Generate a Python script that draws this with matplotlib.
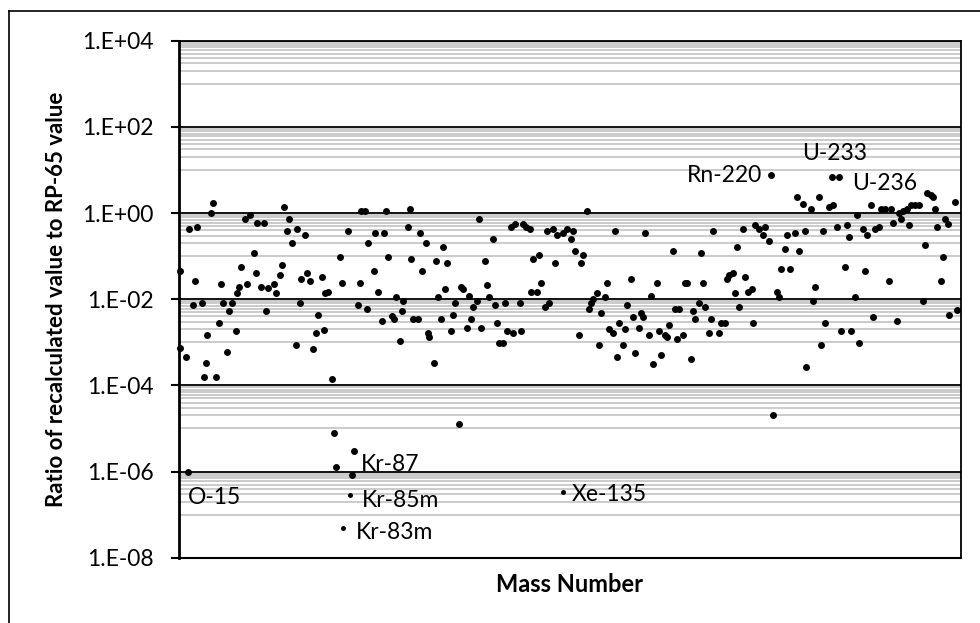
import math
import matplotlib
matplotlib.use("Agg")
import matplotlib.pyplot as plt
from matplotlib.ticker import FixedLocator, FuncFormatter, NullFormatter
from matplotlib.lines import Line2D

plt.rcParams['font.family'] = ['Lato', 'DejaVu Sans']

# Position of each nuclide along the (unlabelled) mass-number axis
nuclide_pos = [
    0.4, 0.4, 3.2, 4.2, 5.0, 7.0, 7.9, 9.0, 11.2, 12.2, 13.2, 14.0, 16.0, 17.0, 18.2,
    20.0, 21.0, 22.0, 24.1, 25.0, 26.2, 28.2, 29.0, 30.0, 30.9, 33.0, 34.0, 35.2, 37.2,
    38.2, 39.0, 41.0, 42.4, 43.2, 44.2, 47.2, 48.2, 50.2, 51.2, 52.2, 54.0, 55.0, 56.2,
    58.2, 59.0, 60.2, 61.0, 63.0, 64.0, 65.2, 67.1, 68.2, 69.2, 71.2, 72.2, 73.0, 74.2,
    76.2, 77.2, 78.2, 80.2, 81.2, 84.2, 86.2, 87.2, 89.2, 90.2, 90.9, 93.0, 93.7,
    94.5, 97.2, 98.0, 99.2, 101.2, 102.2, 103.2, 104.2, 106.2, 107.2, 108.2, 110.2, 111.2,
    112.0, 114.2, 115.2, 116.0, 117.0, 119.2, 120.2, 121.2, 123.2, 124.2, 124.9, 127.2,
    128.2, 129.2, 131.2, 132.2, 133.2, 134.2, 136.2, 137.2, 138.2, 140.2, 141.2, 142.2,
    144.2, 145.2, 146.2, 147.2, 149.2, 150.2, 151.2, 153.2, 154.2, 155.2, 157.2, 158.2,
    159.2, 160.0, 162.0, 163.2, 164.2, 166.2, 167.2, 168.2, 170.4, 171.2, 172.0, 173.4,
    175.4, 176.2, 177.2, 179.2, 180.2, 181.2, 183.2, 184.2, 185.2, 187.1, 188.1, 189.1,
    192.0, 194.0, 196.0, 197.0, 198.2, 200.1, 201.2, 202.2, 204.2, 205.1, 206.2, 207.2,
    209.2, 210.2, 211.2, 213.2, 214.2, 215.2, 217.2, 218.2, 219.2, 220.1, 222.2, 223.2,
    224.2, 226.2, 227.2, 228.2, 230.2, 231.2, 232.2, 233.2, 235.2, 236.2, 237.2, 239.2,
    240.2, 241.2, 243.2, 244.2, 245.2, 247.2, 248.2, 249.2, 250.2, 252.2, 253.1, 254.2,
    256.2, 257.2, 258.2, 260.2, 261.2, 262.2, 263.2, 265.2, 266.2, 267.0, 270.2, 271.2,
    273.2, 274.2, 275.2, 277.2, 278.2, 279.2, 280.2, 282.1, 283.2, 284.6, 286.4, 287.2,
    288.2, 290.2, 292.2, 293.2, 295.2, 296.2, 296.9, 299.2, 300.2, 301.2, 303.2, 304.2,
    305.7, 308.2, 309.2, 310.2, 312.2, 313.2, 313.4, 316.2, 317.2, 318.2, 320.2, 321.2,
    322.2, 323.2, 325.2, 326.4, 327.2, 329.2, 330.0, 331.2, 333.2, 334.2, 335.2, 336.2,
    338.2, 339.2, 340.2, 342.2, 343.2, 344.2, 346.2, 347.2, 348.2, 350.2, 351.2, 353.2,
    355.2, 356.2, 357.2, 359.2, 360.2, 361.2, 362.2, 364.2, 365.2, 366.2, 368.2, 370.2,
    372.2, 373.2, 374.2, 376.2, 377.2, 378.2, 379.2, 381.2, 382.2, 383.2, 384.5, 385.2,
    387.9, 388.9,
]

# Ratio of recalculated value to the RP-65 value
ratio = [
    0.046, 7.4e-4, 4.6e-4, 1.0e-6, 0.42, 7.4e-3, 0.027, 0.47, 8.1e-3, 1.6e-4, 3.3e-4, 1.5e-3, 1.0, 1.7, 1.6e-4,
    2.8e-3, 0.022, 8.1e-3, 6.1e-4, 5.3e-3, 8.1e-3, 1.8e-3, 0.014, 0.019, 0.057, 0.72, 0.022, 0.92, 0.117,
    0.040, 0.59, 0.019, 0.59, 5.3e-3, 0.018, 0.022, 0.014, 0.036, 0.063, 1.38, 0.38, 0.72, 0.20,
    8.7e-4, 0.42, 8.1e-3, 0.030, 0.31, 0.040, 0.027, 7.0e-4, 1.6e-3, 4.3e-3, 0.033, 1.9e-3, 0.014, 0.015,
    1.4e-4, 7.8e-6, 1.3e-6, 0.095, 0.024, 0.38, 8.2e-7, 3.0e-6, 7.4e-3, 0.024, 1.1, 1.1, 6.0e-3,
    0.20, 0.045, 0.34, 0.015, 3.1e-3, 0.34, 1.1, 0.095, 4.0e-3, 3.4e-3, 0.011, 1.07e-3, 5.3e-3,
    9.0e-3, 0.47, 1.24, 0.085, 3.4e-3, 3.4e-3, 0.34, 0.045, 0.20, 1.65e-3, 1.3e-3, 3.3e-4,
    0.078, 0.011, 3.4e-3, 0.16, 0.017, 0.069, 1.8e-3, 4.3e-3, 8.1e-3, 1.3e-5, 0.019, 0.017,
    2.2e-3, 0.012, 3.4e-3, 6.5e-3, 9.0e-3, 0.72, 2.2e-3, 0.078, 0.021, 0.011, 0.25, 7.2e-3,
    2.8e-3, 9.7e-4, 9.7e-4, 8.1e-3, 1.8e-3, 0.47, 1.65e-3, 0.55, 8.1e-3, 1.8e-3, 0.55, 0.47,
    0.42, 0.015, 0.085, 0.015, 0.105, 0.024, 6.5e-3, 0.38, 8.1e-3, 0.42, 0.069, 0.31,
    0.34, 0.42, 0.25, 0.38, 0.13, 1.45e-3, 0.069, 0.105, 1.1, 5.9e-3, 8.1e-3, 0.010,
    0.014, 8.5e-4, 4.7e-3, 0.011, 0.024, 2.0e-3, 1.6e-3, 0.38, 4.5e-4, 2.8e-3, 8.5e-4, 2.0e-3,
    7.2e-3, 0.029, 3.8e-3, 5.5e-4, 2.2e-3, 4.7e-3, 3.8e-3, 0.34, 1.45e-3, 0.012, 3.2e-4, 0.024,
    1.8e-3, 5.1e-4, 1.45e-3, 1.3e-3, 2.5e-3, 0.13, 5.9e-3, 1.17e-3, 5.9e-3, 1.45e-3, 0.024, 0.024,
    4.0e-4, 5.3e-3, 3.4e-3, 8.1e-3, 0.117, 0.024, 6.5e-3, 1.6e-3, 3.4e-3, 0.38, 1.6e-3, 2.8e-3,
    2.8e-3, 0.029, 0.036, 0.040, 0.014, 0.16, 6.5e-3, 0.42, 0.032, 0.015, 0.017, 2.8e-3,
    0.53, 0.42, 0.31, 0.47, 0.22, 7.8, 2.1e-5, 0.015, 0.011, 0.050, 0.146, 0.31,
    0.050, 0.34, 2.4, 0.13, 1.6, 0.38, 2.7e-4, 1.24, 9.0e-3, 0.019, 2.4, 8.5e-4,
    0.38, 2.8e-3, 1.38, 6.9, 1.5, 0.47, 6.9, 1.8e-3, 0.055, 0.53, 0.28, 1.8e-3,
    0.011, 0.90, 9.5e-4, 0.42, 0.045, 0.31, 1.5, 3.8e-3, 0.42, 0.47, 1.24, 1.24,
    0.026, 1.24, 0.59, 3.1e-3, 1.0, 0.72, 1.1, 1.24, 0.53, 1.5, 1.5, 1.5,
    9.0e-3, 0.18, 2.9, 2.6, 2.4, 1.24, 0.47, 0.026, 0.095, 0.72, 0.55, 4.2e-3,
    1.8, 5.5e-3,
]

# Noble-gas nuclides drawn with a smaller marker
gas_pos = [82.0, 85.2, 192.0]
gas_ratio = [5.0e-8, 2.8e-7, 3.4e-7]

# Named nuclides
label_names = ['O-15', 'Kr-87', 'Kr-85m', 'Kr-83m', 'Xe-135', 'Rn-220', 'U-233', 'U-236']
label_pos = [4.2, 86.2, 85.2, 82.0, 192.0, 296.2, 326.4, 330.0]
label_ratio = [1.0e-6, 8.2e-7, 2.8e-7, 5.0e-8, 3.4e-7, 7.8, 6.9, 6.9]
label_offsets = [(0, -19), (6.5, 8), (8.6, -4), (9.4, -3.5), (6.5, -2), (-6.5, -0.5), (2.2, 16.5), (9.4, -5)]
label_ha = ['left', 'left', 'left', 'left', 'left', 'right', 'center', 'left']

y_major = [10.0 ** e for e in range(-8, 5, 2)]
y_minor = [k * 10.0 ** e for e in range(-7, 4, 2) for k in range(1, 10)]

W, H = 980, 623
fig = plt.figure(figsize=(W / 100, H / 100), dpi=100)
ax = fig.add_axes([179.3 / W, 1 - 557.7 / H, (960.7 - 179.3) / W, (557.7 - 40.7) / H])

ax.set_yscale('log')
ax.set_ylim(1e-8, 1e4)
ax.set_xlim(0, 391)

ax.yaxis.set_major_locator(FixedLocator(y_major))
ax.yaxis.set_minor_locator(FixedLocator(y_minor))
ax.yaxis.set_minor_formatter(NullFormatter())
ax.yaxis.set_major_formatter(FuncFormatter(lambda v, _: "1.E{:+03d}".format(int(round(math.log10(v))))))

ax.grid(which='minor', axis='y', color='#bdbdbd', lw=1.1, zorder=0)
ax.grid(which='major', axis='y', color='black', lw=1.3, zorder=1)
ax.set_axisbelow(True)

ax.tick_params(axis='y', which='major', direction='out', length=6, width=1.5,
               pad=12.5, labelsize=16.5, colors='black')
ax.tick_params(axis='y', which='minor', length=0)
ax.set_xticks([])

for side, lw in (('left', 2.0), ('bottom', 1.5), ('right', 1.3), ('top', 1.3)):
    ax.spines[side].set_linewidth(lw)
    ax.spines[side].set_color('black')

ax.plot(nuclide_pos, ratio, linestyle='none', marker='o', markersize=5.0,
        color='black', markeredgewidth=0, zorder=4, clip_on=False)
ax.plot(gas_pos, gas_ratio, linestyle='none', marker='o', markersize=3.6,
        color='black', markeredgewidth=0, zorder=4, clip_on=False)

for name, xp, yv, off, ha in zip(label_names, label_pos, label_ratio, label_offsets, label_ha):
    ax.annotate(name, (xp, yv), xytext=off, textcoords='offset points',
                ha=ha, va='center', fontsize=16.5, color='black', zorder=5,
                annotation_clip=False)

fig.text(570 / W, 1 - 585 / H, 'Mass Number', ha='center', va='center',
         fontsize=17, fontweight='bold')
fig.text(57 / W, 1 - 299 / H, 'Ratio of recalculated value to RP-65 value',
         ha='center', va='center', rotation=90, fontsize=16, fontweight='bold')

# Chart-area frame
fig.add_artist(Line2D([9 / W, 9 / W], [0, 1 - 10.7 / H], transform=fig.transFigure,
                      color='black', lw=1.2))
fig.add_artist(Line2D([9 / W, 1], [1 - 10.7 / H, 1 - 10.7 / H], transform=fig.transFigure,
                      color='black', lw=1.2))

fig.savefig('out.png', dpi=100)
